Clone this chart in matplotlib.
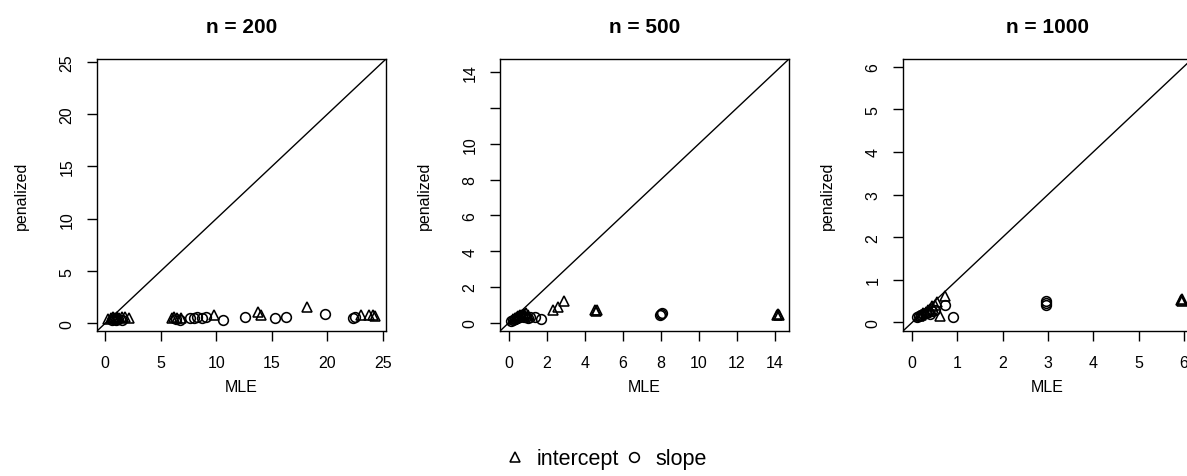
import matplotlib
matplotlib.use("Agg")
import matplotlib.pyplot as plt
from matplotlib.lines import Line2D

plt.rcParams["font.family"] = ["Liberation Sans", "DejaVu Sans"]

# estimates: MLE (x) vs penalized (y)
# n = 200
n200_int_mle = [0.3, 0.5, 0.7, 0.9, 1.1, 1.3, 1.5, 1.8, 2.2, 6.0, 6.2, 6.5, 6.8,
                9.8, 13.8, 14.0, 18.2, 23.0, 23.7, 24.1, 24.3]
n200_int_pen = [0.45, 0.55, 0.6, 0.5, 0.6, 0.55, 0.65, 0.6, 0.55, 0.55, 0.6, 0.5, 0.5,
                0.8, 1.05, 0.8, 1.55, 0.85, 0.85, 0.8, 0.75]
n200_slope_mle = [0.6, 0.8, 1.0, 1.2, 1.5, 6.4, 6.7, 7.6, 8.0, 8.3, 8.7, 9.1,
                  10.6, 12.6, 15.3, 16.3, 19.8, 22.3, 22.5]
n200_slope_pen = [0.35, 0.4, 0.3, 0.45, 0.35, 0.4, 0.35, 0.55, 0.5, 0.6, 0.55, 0.6,
                  0.35, 0.6, 0.55, 0.6, 0.9, 0.55, 0.65]

# n = 500
n500_int_mle = [0.2, 0.3, 0.4, 0.5, 0.6, 0.7, 0.8, 0.9, 1.0, 2.3, 2.6, 2.9,
                4.55, 4.6, 4.65, 14.1, 14.15, 14.2]
n500_int_pen = [0.2, 0.25, 0.3, 0.35, 0.4, 0.45, 0.5, 0.55, 0.45, 0.7, 0.9, 1.2,
                0.7, 0.65, 0.7, 0.45, 0.5, 0.45]
n500_slope_mle = [0.1, 0.2, 0.3, 0.4, 0.5, 0.6, 0.7, 0.8, 0.9, 1.0, 1.1, 1.35, 1.7,
                  7.95, 8.05, 8.0]
n500_slope_pen = [0.1, 0.15, 0.2, 0.25, 0.3, 0.3, 0.35, 0.3, 0.3, 0.25, 0.3, 0.3, 0.2,
                  0.45, 0.55, 0.5]

# n = 1000
n1000_int_mle = [0.15, 0.2, 0.25, 0.3, 0.35, 0.4, 0.45, 0.5, 0.55, 0.62, 0.72,
                 5.95, 5.96, 5.94]
n1000_int_pen = [0.15, 0.18, 0.22, 0.25, 0.3, 0.32, 0.38, 0.42, 0.48, 0.16, 0.62,
                 0.5, 0.55, 0.52]
n1000_slope_mle = [0.1, 0.15, 0.2, 0.25, 0.3, 0.35, 0.4, 0.45, 0.5, 0.72, 0.9,
                   2.95, 2.95, 2.96]
n1000_slope_pen = [0.12, 0.15, 0.18, 0.2, 0.22, 0.25, 0.2, 0.28, 0.3, 0.4, 0.13,
                   0.5, 0.4, 0.45]

titles = ["n = 200", "n = 500", "n = 1000"]
ticks = [[0, 5, 10, 15, 20, 25],
         [0, 2, 4, 6, 8, 10, 12, 14],
         [0, 1, 2, 3, 4, 5, 6]]
ytick_labels = [["0", "5", "10", "15", "20", "25"],
                ["0", "2", "4", "6", "8", "10", "", "14"],
                ["0", "1", "2", "3", "4", "5", "6"]]
limits = [(-0.72, 25.27), (-0.47, 14.74), (-0.2, 6.18)]

panels = [
    (n200_int_mle, n200_int_pen, n200_slope_mle, n200_slope_pen),
    (n500_int_mle, n500_int_pen, n500_slope_mle, n500_slope_pen),
    (n1000_int_mle, n1000_int_pen, n1000_slope_mle, n1000_slope_pen),
]

W, H = 1187, 477
fig = plt.figure(figsize=(W / 100, H / 100), dpi=100, facecolor="white")

lefts = [97, 500, 903]
box_top, box_bot, box_w = 60, 332, 289
mk = dict(linestyle="none", markerfacecolor="none", markeredgecolor="black",
          markersize=7, markeredgewidth=1.15)

for i, (ix, iy, sx, sy) in enumerate(panels):
    ax = fig.add_axes([lefts[i] / W, (H - box_bot) / H, box_w / W,
                       (box_bot - box_top) / H])
    ax.plot(ix, iy, marker="^", **mk)
    ax.plot(sx, sy, marker="o", **mk)
    ax.axline((0, 0), (1, 1), color="black", linewidth=1.0)
    ax.set_xlim(limits[i])
    ax.set_ylim(limits[i])
    ax.set_xticks(ticks[i])
    ax.set_yticks(ticks[i])
    ax.set_yticklabels(ytick_labels[i], rotation=90, va="center")
    ax.tick_params(direction="out", length=7.2, width=1.0, labelsize=11.5,
                   colors="black")
    ax.tick_params(axis="x", pad=10)
    ax.tick_params(axis="y", pad=9)
    for sp in ax.spines.values():
        sp.set_linewidth(1.0)
    ax.text(0.5, 1.121, titles[i], transform=ax.transAxes, ha="center",
            va="center", fontsize=15, fontweight="bold")
    ax.text(0.5, -0.205, "MLE", transform=ax.transAxes, ha="center",
            va="center", fontsize=11.5)
    ax.text(-0.26, 0.5, "penalized", transform=ax.transAxes, ha="center",
            va="center", rotation=90, fontsize=11.5)

handles = [
    Line2D([], [], marker="^", **mk),
    Line2D([], [], marker="o", **mk),
]
fig.legend(handles, ["intercept", "slope"], loc="center",
           bbox_to_anchor=(606 / W, 1 - 460 / H), ncol=2, frameon=False,
           fontsize=15.5, handlelength=1.0, handletextpad=0.5,
           columnspacing=0.2, borderpad=0, borderaxespad=0)

fig.savefig("out.png", dpi=100)
